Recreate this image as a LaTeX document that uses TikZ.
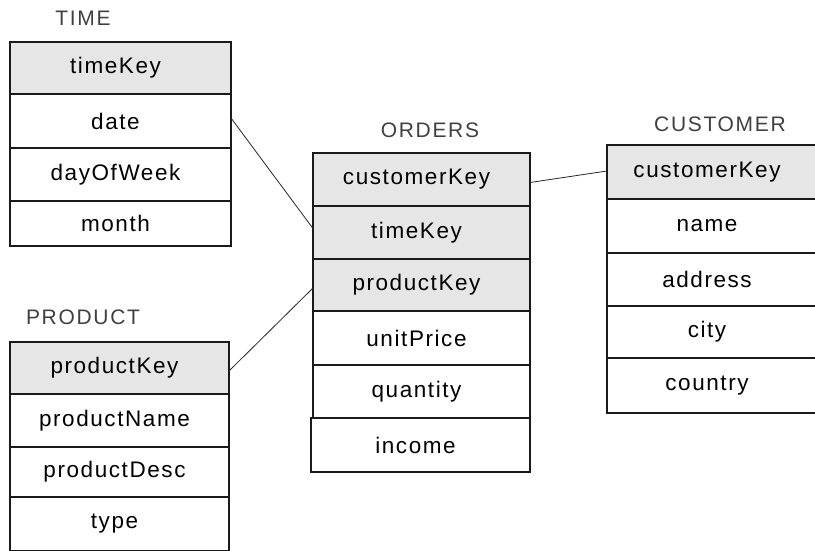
\documentclass[tikz,border=0pt]{standalone}
\usepackage{fontspec}
\setmainfont{Liberation Sans}[LetterSpace=8]
\newfontfamily\cellfont{Liberation Sans}[LetterSpace=7]
\definecolor{keyfill}{HTML}{E6E6E6}
\definecolor{inkline}{HTML}{1A1A1A}
\begin{document}
\begin{tikzpicture}[x=1pt,y=-1pt,
  cell/.style={draw=inkline, line width=1.2pt, fill=white, inner sep=0pt, outer sep=0pt,
    font=\cellfont\fontsize{22.5}{26}\selectfont, text=black,
    execute at end node={\kern10pt}},
  keycell/.style={cell, fill=keyfill},
  tabletitle/.style={font=\fontsize{21}{25}\selectfont, text=black!75, inner sep=0pt},
  link/.style={draw=black!85, line width=0.8pt}]
\useasboundingbox (0,0) rectangle (815,550);
\clip (0,0) rectangle (815,550);
\fill[white] (0,0) rectangle (815,550);

% TIME dimension
\node[tabletitle] (timeT) at (83,18) {TIME};
\node[keycell, minimum width=221pt, minimum height=52pt] (tKey)  at (120.5,68)   {timeKey};
\node[cell,    minimum width=221pt, minimum height=54pt] (tDate) at (120.5,121)  {date};
\node[cell,    minimum width=221pt, minimum height=53pt] (tDow)  at (120.5,174.5){dayOfWeek};
\node[cell,    minimum width=221pt, minimum height=45pt] (tMon)  at (120.5,223.5){month};

% PRODUCT dimension
\node[tabletitle] (prodT) at (83,317) {PRODUCT};
\node[keycell, minimum width=219pt, minimum height=52pt] (pKey)  at (119.5,368)  {productKey};
\node[cell,    minimum width=219pt, minimum height=53pt] (pName) at (119.5,420.5){productName};
\node[cell,    minimum width=219pt, minimum height=50pt] (pDesc) at (119.5,472)  {productDesc};
\node[cell,    minimum width=219pt, minimum height=54pt] (pType) at (119.5,524)  {type};

% ORDERS fact table
\node[tabletitle] (ordT) at (430,130) {ORDERS};
\node[keycell, minimum width=217pt, minimum height=53pt] (oCust)  at (421.5,179.5){customerKey};
\node[keycell, minimum width=217pt, minimum height=53pt] (oTime)  at (421.5,232.5){timeKey};
\node[keycell, minimum width=217pt, minimum height=52pt] (oProd)  at (421.5,285)  {productKey};
\node[cell,    minimum width=217pt, minimum height=54pt] (oPrice) at (421.5,338)  {unitPrice};
\node[cell,    minimum width=217pt, minimum height=53pt] (oQty)   at (421.5,391.5){quantity};
\node[cell,    minimum width=219pt, minimum height=54pt] (oInc)   at (420.5,445)  {income};

% CUSTOMER dimension
\node[tabletitle] (custT) at (720,124) {CUSTOMER};
\node[keycell, minimum width=210pt, minimum height=54pt] (cKey)  at (712,172)  {customerKey};
\node[cell,    minimum width=210pt, minimum height=54pt] (cName) at (712,226)  {name};
\node[cell,    minimum width=210pt, minimum height=53pt] (cAddr) at (712,279.5){address};
\node[cell,    minimum width=210pt, minimum height=52pt] (cCity) at (712,332)  {city};
\node[cell,    minimum width=210pt, minimum height=55pt] (cCtry) at (712,385.5){country};

% foreign key links
\draw[link] ([yshift=3pt]tDate.east) -- ([yshift=4pt]oTime.west);
\draw[link] ([yshift=-3pt]pKey.east) -- ([yshift=-3pt]oProd.west);
\draw[link] ([yshift=-3pt]oCust.east) -- ([yshift=1pt]cKey.west);
\end{tikzpicture}
\end{document}
